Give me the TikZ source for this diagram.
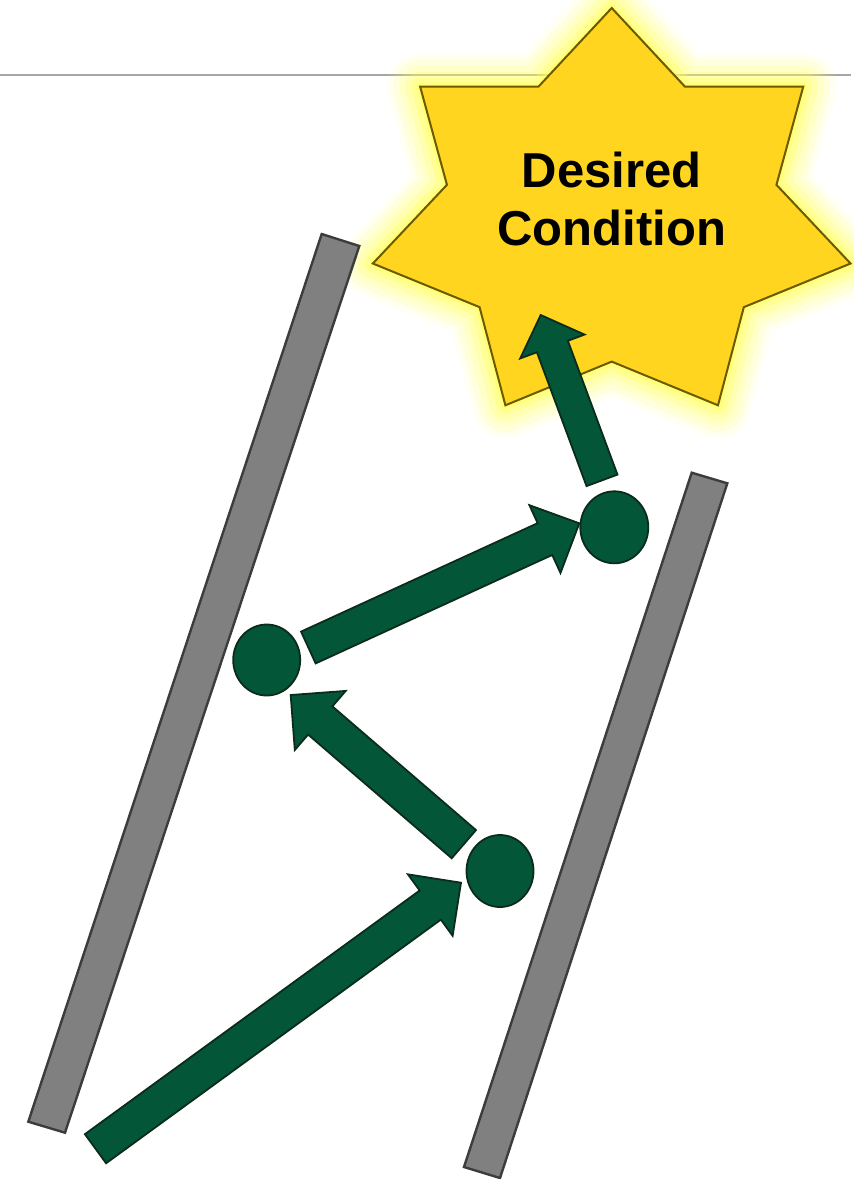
\documentclass[tikz,border=0pt]{standalone}
\usepackage{fontspec}
\setmainfont{Liberation Sans}
\usetikzlibrary{calc,shapes.geometric}
\definecolor{starfill}{HTML}{FFD520}
\definecolor{starline}{HTML}{6B5A00}
\definecolor{glowc}{HTML}{FFFF55}
\definecolor{grn}{HTML}{035637}
\definecolor{grnline}{HTML}{0B2B1C}
\definecolor{barfill}{HTML}{808080}
\definecolor{barline}{HTML}{3C3C3C}
\definecolor{rulec}{HTML}{A6A6A6}
\tikzset{
  arrowshape/.style={fill=grn,draw=grnline,line width=1.8pt,line join=miter},
  dotshape/.style={ellipse,fill=grn,draw=grnline,line width=1.8pt,inner sep=0pt},
  barshape/.style={fill=barfill,draw=barline,line width=2.4pt,line join=miter},
  starshape/.style={fill=starfill,draw=starline,line width=2pt,line join=miter},
  glowlayer/.style={draw=glowc,line join=round,draw opacity=#1},
  rulestyle/.style={draw=rulec,line width=2pt}
}
% #1 tail, #2 tip, #3 half shaft width, #4 half head width, #5 head length
\newcommand\blkarrow[5]{%
  \coordinate (#1-#2-j) at ($(#2)!#5!(#1)$);
  \draw[arrowshape] ($(#1)!#3!90:(#2)$) -- ($(#1-#2-j)!#3!90:(#2)$)
    -- ($(#1-#2-j)!#4!90:(#2)$) -- (#2) -- ($(#1-#2-j)!#4!-90:(#2)$)
    -- ($(#1-#2-j)!#3!-90:(#2)$) -- ($(#1)!#3!-90:(#2)$) -- cycle;
}
\newcommand\starpath{(s0) -- (s1) -- (s2) -- (s3) -- (s4) -- (s5) -- (s6) -- (s7) -- (s8) -- (s9) -- (s10) -- (s11) -- (s12) -- (s13) -- cycle}
\begin{document}
\begin{tikzpicture}[x=1pt,y=-1pt]
\useasboundingbox (0,0) rectangle (854,1179);
% star geometry
\foreach \k in {0,...,13}{
  \pgfmathsetmacro\ang{90-\k*25.7142857}
  \pgfmathsetmacro\rx{mod(\k,2)==0 ? 245 : 169}
  \pgfmathsetmacro\ry{mod(\k,2)==0 ? 209 : 144.6}
  \coordinate (s\k) at ({611.7+\rx*cos(\ang)},{217-\ry*sin(\ang)});
}
% horizontal rule
\coordinate (rl) at (0,75);
\coordinate (rr) at (851,75);
\draw[rulestyle] (rl) -- (rr);
% glow
\path[glowlayer=0.08,line width=66pt] \starpath;
\path[glowlayer=0.12,line width=54pt] \starpath;
\path[glowlayer=0.16,line width=42pt] \starpath;
\path[glowlayer=0.22,line width=30pt] \starpath;
\path[glowlayer=0.3,line width=18pt] \starpath;
\path[glowlayer=0.4,line width=8pt] \starpath;
\path[starshape] \starpath;
\node[font=\bfseries\fontsize{49}{58.3}\selectfont,align=center,inner sep=0pt] (lbl) at (611.7,199) {Desired\\Condition};
% bars
\draw[barshape] (321.7,234) -- (359.3,246) -- (65,1132.7) -- (28.3,1121.7) -- cycle;
\draw[barshape] (691.7,472.7) -- (727.3,483.3) -- (500,1178) -- (464,1167) -- cycle;
% dots
\node[dotshape,minimum width=67pt,minimum height=72pt] (c1) at (500,871) {};
\node[dotshape,minimum width=67pt,minimum height=71pt] (c2) at (266.7,660) {};
\node[dotshape,minimum width=68pt,minimum height=72pt] (c3) at (614.3,527.3) {};
% arrow ends
\coordinate (a1t) at (95.5,1148.7);
\coordinate (a1h) at ($(c1)+(-39,11.7)$);
\coordinate (a2t) at ($(c1)+(-36.15,-26.85)$);
\coordinate (a2h) at ($(c2)+(24,35)$);
\coordinate (a3t) at ($(c2)+(41.65,-12.5)$);
\coordinate (a3h) at ($(c3)+(-35,-4)$);
\coordinate (a4t) at ($(c3)+(-12.3,-46.95)$);
\coordinate (a4h) at (540.7,315);
\blkarrow{a1t}{a1h}{18pt}{38pt}{38pt}
\blkarrow{a2t}{a2h}{18.6pt}{39pt}{39pt}
\blkarrow{a3t}{a3h}{17.5pt}{37.3pt}{37.8pt}
\blkarrow{a4t}{a4h}{16.5pt}{34.3pt}{33.6pt}
\end{tikzpicture}
\end{document}
